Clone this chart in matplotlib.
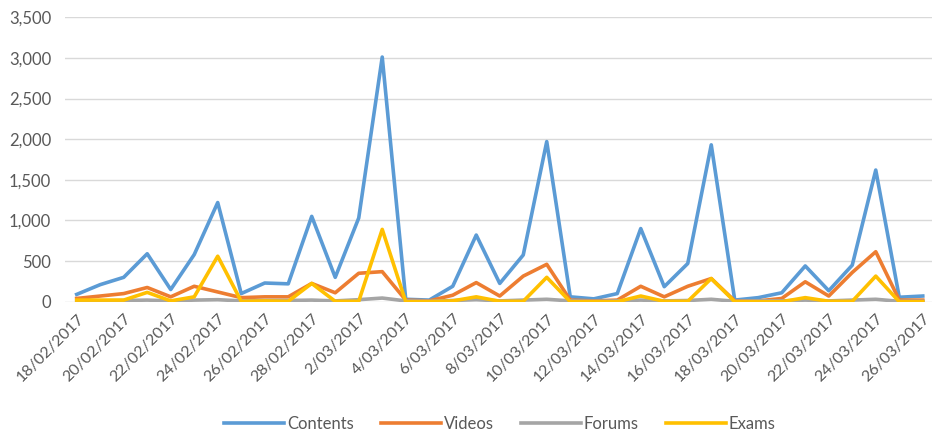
import numpy as np
import pandas as pd
import matplotlib.pyplot as plt
from matplotlib.ticker import FuncFormatter

# daily counts, 18/02/2017 .. 26/03/2017
dates = pd.date_range("2017-02-18", "2017-03-26", freq="D")
contents = [90, 210, 300, 590, 150, 580, 1220, 100, 230, 220, 1050, 300, 1030,
            3010, 30, 20, 190, 820, 225, 575, 1970, 60, 35, 100, 900, 185,
            470, 1930, 20, 50, 110, 440, 135, 450, 1620, 55, 70]
videos = [40, 70, 100, 175, 60, 190, 120, 50, 60, 60, 225, 110, 350,
          370, 20, 10, 80, 235, 70, 315, 460, 20, 10, 20, 190, 60,
          190, 285, 10, 10, 40, 245, 70, 360, 615, 20, 20]
forums = [10, 10, 15, 20, 10, 20, 25, 10, 15, 15, 20, 10, 25,
          45, 10, 5, 15, 25, 10, 20, 30, 10, 5, 10, 20, 10,
          15, 30, 5, 10, 10, 20, 10, 20, 30, 5, 5]
exams = [20, 20, 20, 115, 10, 60, 560, 5, 10, 5, 225, 5, 5,
         890, 0, 0, 10, 60, 5, 5, 300, 0, 0, 0, 70, 5,
         5, 285, 0, 0, 0, 50, 5, 5, 315, 0, 0]

labels = [f"{d.day}/{d.month:02d}/{d.year}" for d in dates]

plt.rcParams['font.family'] = ['Lato', 'DejaVu Sans']

fig = plt.figure(figsize=(9.32, 4.33), dpi=100)
ax = fig.add_axes([0.0697, 0.3032, 0.933, 0.657])

x = np.arange(len(dates))
lw = 2.6
ax.plot(x, contents, color="#5B9BD5", lw=lw, label="Contents", solid_joinstyle="round")
ax.plot(x, videos, color="#ED7D31", lw=lw, label="Videos", solid_joinstyle="round")
ax.plot(x, forums, color="#A5A5A5", lw=lw, label="Forums", solid_joinstyle="round")
ax.plot(x, exams, color="#FFC000", lw=lw, label="Exams", solid_joinstyle="round")

ax.set_xlim(-0.5, len(dates) - 0.5)
ax.set_ylim(0, 3500)
ax.set_yticks(np.arange(0, 3501, 500))
ax.yaxis.set_major_formatter(FuncFormatter(lambda v, p: f"{int(v):,}"))
ax.set_xticks(x[::2])
ax.set_xticklabels(labels[::2], rotation=45, ha="right", rotation_mode="anchor")

ax.grid(axis="y", color="#D9D9D9", lw=1)
ax.set_axisbelow(True)
for s in ax.spines.values():
    s.set_visible(False)
ax.tick_params(length=0, labelsize=12, colors="#595959")
ax.tick_params(axis="x", pad=7, labelsize=11.5)
ax.tick_params(axis="y", pad=10)

ax.legend(loc="center", bbox_to_anchor=(0.5, -0.43), ncol=4, frameon=False,
          fontsize=12, handlelength=3.6, handletextpad=0.2, columnspacing=1.6,
          labelcolor="#595959")

fig.savefig("out.png", dpi=100)
